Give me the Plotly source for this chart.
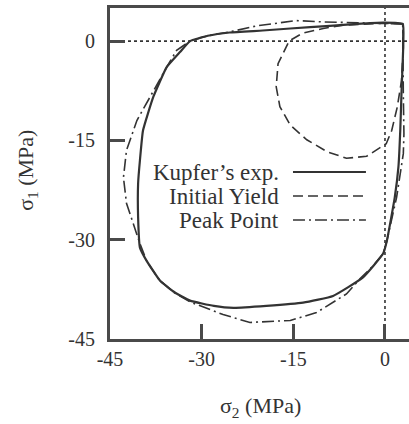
import plotly.graph_objects as go

# --- data (MPa) ---
kupfer_x = [2.9, -0.3, -4.6, -9.0, -15.5, -20.0, -25.4, -29.0, -31.9, -33.5, -35.7, -37.9, -39.6, -40.1,
            -40.4, -40.4, -40.1, -39.0, -36.8, -34.5, -31.9, -28.0, -24.8, -19.4, -13.4, -8.5, -3.6,
            -0.3, 0.3, 1.6, 2.2, 2.5, 2.7, 3.0, 2.9]
kupfer_y = [2.6, 2.8, 2.6, 2.3, 1.9, 1.6, 1.3, 0.8, 0.0, -1.6, -3.9, -8.4, -13.5, -18.0,
            -21.5, -26.6, -31.2, -33.2, -36.2, -37.9, -39.2, -40.0, -40.3, -40.0, -39.5, -38.5, -35.7,
            -32.1, -30.2, -23.6, -19.0, -13.5, -7.9, -0.3, 2.6]

yield_x = [3.0, 2.7, 2.0, 1.1, 0.2, -3.0, -6.3, -9.5, -12.8, -15.5, -17.2, -17.8, -17.5, -15.7,
           -13.5, -10.1, -6.9, -3.0, 0.0, 2.9, 3.0]
yield_y = [-1.0, -6.0, -10.0, -13.5, -15.5, -17.4, -17.7, -16.7, -14.9, -12.7, -9.9, -6.9, -3.4, 0.0,
           1.2, 1.9, 2.4, 2.6, 2.7, 2.6, -1.0]

peak_x = [2.9, -2.0, -4.6, -10.1, -14.5, -21.0, -25.4, -29.0, -31.9, -34.1, -35.7, -36.6, -38.5, -40.6,
          -42.3, -42.8, -42.3, -41.2, -40.1, -39.0, -37.0, -34.5, -31.9, -26.5, -22.1, -15.5, -11.2,
          -6.3, -4.1, -2.0, -0.3, 0.3, 1.9, 3.0, 3.1, 3.0, 2.9, 2.9]
peak_y = [2.6, 2.7, 2.7, 2.9, 3.1, 2.3, 1.4, 0.8, 0.0, -1.4, -3.9, -5.4, -8.4, -12.0,
          -16.5, -20.6, -24.5, -27.6, -30.6, -33.2, -36.0, -38.0, -39.4, -41.3, -42.5, -42.2, -41.0,
          -38.2, -35.9, -34.0, -32.1, -30.2, -23.6, -17.0, -14.0, -8.0, -3.0, 2.6]

tick_vals = [-45, -30, -15, 0]
tick_text = ["-45", "-30", "-15", "0"]
legend_labels = ["Kupfer\u2019s exp.", "Initial Yield", "Peak Point"]
x_title = "\u03c3<sub>2</sub> (MPa)"
y_title = "\u03c3<sub>1</sub> (MPa)"

INK = "#333333"
FRAME = "#4a4a4a"
FONT = "Liberation Serif"
dash_yield = "10px,5px"
dash_peak = "12px,4px,2px,4px"

fig = go.Figure()
fig.add_trace(go.Scatter(x=peak_x, y=peak_y, mode="lines",
                         line=dict(color=INK, width=1.6, dash=dash_peak), showlegend=False))
fig.add_trace(go.Scatter(x=yield_x, y=yield_y, mode="lines",
                         line=dict(color=INK, width=1.6, dash=dash_yield), showlegend=False))
fig.add_trace(go.Scatter(x=kupfer_x, y=kupfer_y, mode="lines",
                         line=dict(color=INK, width=2.2, shape="spline", smoothing=0.4), showlegend=False))

# dotted zero lines
fig.add_shape(type="line", xref="x", yref="paper", x0=0, x1=0, y0=0, y1=1,
              line=dict(color=INK, width=1.6, dash="dot"), layer="below")
fig.add_shape(type="line", xref="paper", yref="y", x0=0, x1=1, y0=0, y1=0,
              line=dict(color=INK, width=1.6, dash="dot"), layer="below")

# legend (text left, sample right)
rows_y = [0.5045, 0.432, 0.3595]
dashes = ["solid", dash_yield, dash_peak]
widths = [2.2, 1.6, 1.6]
for lab, ry, d, w in zip(legend_labels, rows_y, dashes, widths):
    fig.add_annotation(xref="paper", yref="paper", x=0.572, y=ry, text=lab, showarrow=False,
                       xanchor="right", yanchor="middle",
                       font=dict(family=FONT, size=23, color=INK))
    fig.add_shape(type="line", xref="paper", yref="paper", x0=0.612, x1=0.856, y0=ry, y1=ry,
                  line=dict(color=INK, width=w, dash=d))

# axis titles
fig.add_annotation(xref="paper", yref="paper", x=0.5017, y=-0.2054, text=x_title, showarrow=False,
                   xanchor="center", yanchor="middle", font=dict(family=FONT, size=22, color=INK))
fig.add_annotation(xref="paper", yref="paper", x=-0.2776, y=0.511, text=y_title, showarrow=False,
                   textangle=-90, xanchor="center", yanchor="middle",
                   font=dict(family=FONT, size=22, color=INK))

axis_common = dict(showgrid=False, zeroline=False, showline=True, linecolor=FRAME, linewidth=3,
                   ticks="inside", ticklen=15, tickwidth=3, tickcolor=FRAME,
                   tickvals=tick_vals, ticktext=tick_text,
                   tickfont=dict(family=FONT, size=20, color=INK))

fig.update_xaxes(range=[-45, 3.93], mirror=True, ticklabelstandoff=0, **axis_common)
fig.update_yaxes(range=[-45, 5], mirror=False, ticklabelstandoff=8, **axis_common)

fig.update_layout(width=409, height=424, margin=dict(l=110, r=0, t=8, b=85),
                  paper_bgcolor="white", plot_bgcolor="white", showlegend=False,
                  font=dict(family=FONT, color=INK))

fig.write_html("out.html")
